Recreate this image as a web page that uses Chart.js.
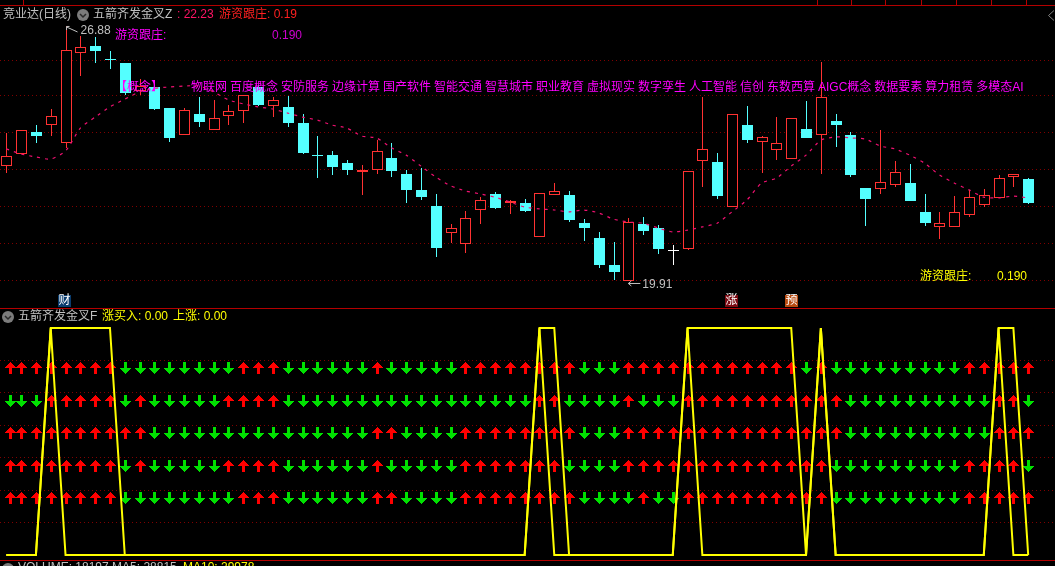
<!DOCTYPE html>
<html>
<head>
<meta charset="utf-8">
<title>竞业达(日线)</title>
<style>
	html, body { margin: 0; padding: 0; background: #000; overflow: hidden; }
	canvas { display: block; }
</style>
<script src="https://cdn.jsdelivr.net/npm/chart.js@4/dist/chart.umd.min.js"></script>
</head>
<body>
<canvas id="kline" width="1055" height="566"></canvas>
<script>
// daily candles
const opens = [23.05,23.38,23.98,24.17,23.68,26.14,26.33,25.98,25.87,25.10,
	25.21,24.64,23.90,24.47,24.04,24.42,24.56,25.21,24.69,24.67,
	24.23,23.35,23.35,23.13,22.89,22.94,23.27,22.83,22.40,21.96,
	21.22,20.92,21.85,22.29,22.04,22.04,21.11,22.26,22.26,21.49,
	21.08,20.35,19.91,21.47,21.36,20.76,20.78,23.19,23.16,21.93,
	24.17,23.71,23.49,23.24,24.06,23.90,24.28,23.90,22.45,22.42,
	22.53,22.59,21.80,21.39,21.39,21.71,21.99,22.18,22.75,22.70]
const highs = [23.96,24.04,24.17,24.61,26.88,26.61,26.58,26.20,25.87,25.43,
	25.38,24.64,24.64,24.94,24.86,24.72,24.99,25.27,24.94,24.97,
	24.47,23.87,23.46,23.22,23.08,23.76,23.68,22.94,23.00,22.29,
	21.47,21.82,22.20,22.34,22.12,22.15,22.31,22.59,22.37,21.60,
	21.25,20.98,21.63,21.66,21.44,20.89,22.92,24.94,23.41,24.47,
	24.69,23.87,24.39,24.36,24.83,25.90,24.47,23.98,22.45,24.04,
	23.19,23.11,22.29,21.80,22.23,22.40,22.42,22.81,22.83,22.72]
const lows = [22.86,23.38,23.68,23.87,23.55,25.51,25.87,25.70,24.99,24.99,
	24.58,23.71,23.90,24.12,24.04,24.17,24.23,24.69,24.39,24.12,
	23.38,22.72,22.81,22.81,22.26,22.83,22.75,22.04,22.12,20.57,
	20.95,20.67,21.47,21.88,21.74,21.80,21.11,22.26,21.52,21.00,
	20.26,19.94,19.91,21.17,20.65,20.35,20.76,22.48,22.15,21.93,
	23.68,22.86,23.22,23.24,23.82,22.83,23.57,22.75,21.41,22.29,
	22.48,22.10,21.41,21.06,21.39,21.66,21.93,22.18,22.48,22.01]
const closes = [23.33,24.04,23.87,24.42,26.22,26.31,26.20,25.97,25.05,25.24,
	24.61,23.82,24.58,24.25,24.36,24.56,24.99,24.72,24.86,24.23,
	23.41,23.34,23.03,22.94,22.94,23.46,22.92,22.40,22.20,20.81,
	21.36,21.63,22.12,21.90,22.10,21.82,22.31,22.37,21.58,21.36,
	20.35,20.16,21.52,21.28,20.78,20.76,22.92,23.52,22.23,24.47,
	23.76,23.85,23.68,24.36,23.82,24.94,24.17,22.81,22.15,22.62,
	22.89,22.10,21.49,21.49,21.80,22.20,22.26,22.72,22.83,22.04]

// the dashed average over the candles
const avgLine = [23.52,23.38,23.30,23.24,23.46,24.09,24.39,24.67,24.88,25.08,
	25.18,25.21,25.24,25.24,25.08,24.86,24.75,24.67,24.61,24.50,
	24.39,24.31,24.17,24.09,23.87,23.82,23.55,23.35,23.05,22.75,
	22.51,22.37,22.29,22.20,22.07,21.93,21.88,21.85,21.80,21.85,
	21.77,21.60,21.52,21.49,21.36,21.25,21.30,21.39,21.49,21.80,
	22.12,22.59,22.72,23.05,23.35,23.76,23.85,23.82,23.79,23.60,
	23.52,23.35,23.13,22.81,22.59,22.40,22.20,22.18,22.23,22.18]

const priceGrid = [25.95,24.98,23.97,22.96,21.95,20.94,19.93]
const signalGrid = [1,2,3,4,5,6]

// lower panel: U = red arrow up, D = green arrow down, top row first
const arrowLevels = [5.77,4.75,3.76,2.74,1.76]
const arrowRows = [
	"UUUUUUUUDD"+"DDDDDDUUUD"+"DDDDDUDDDD"+"DUUUUUUUUD"+"DDUUUUUUUU"+"UUUUDUDDDD"+"DDDDDUUUUU",
	"DDDUUUUUDU"+"DDDDDUUUUD"+"DDDDDDDDDD"+"DDDDDDUUDD"+"DDUDDDUUUU"+"UUUUUUUDDD"+"DDDDDDDUUD",
	"UUUUUUUUUU"+"DDDDDDDDDD"+"DDDDDUUDDD"+"DUUUUUUUUD"+"DDUUUUUUUU"+"UUUUUUUDDD"+"DDDDDDDUUU",
	"UUUUUUUUDU"+"DDDDDUUUUD"+"DDDDDUDDDD"+"DUUUUUUUDD"+"DDUUUUUUUU"+"UUUUUUDDDD"+"DDDDDUUUUD",
	"UUUUUUUUDD"+"DDDDDDUUUD"+"DDDDDUUDDD"+"DUUUUUUUUD"+"DDDUDDUUUU"+"UUUUUUDDDD"+"DDDDDUUUUU"
]

const buySignal = [0,0,0,7,0,0,0,0,0,0,
	0,0,0,0,0,0,0,0,0,0,
	0,0,0,0,0,0,0,0,0,0,
	0,0,0,0,0,0,7,0,0,0,
	0,0,0,0,0,0,7,0,0,0,
	0,0,0,0,0,7,0,0,0,0,
	0,0,0,0,0,0,0,7,0,0]
const upSignal = [0,0,0,7,7,7,7,7,0,0,
	0,0,0,0,0,0,0,0,0,0,
	0,0,0,0,0,0,0,0,0,0,
	0,0,0,0,0,0,7,7,0,0,
	0,0,0,0,0,0,7,7,7,7,
	7,7,7,7,0,7,0,0,0,0,
	0,0,0,0,0,0,0,7,7,0]

const conceptWords = ["物联网","百度概念","安防服务","边缘计算","国产软件","智能交通","智慧城市","职业教育",
	"虚拟现实","数字孪生","人工智能","信创","东数西算","AIGC概念","数据要素","算力租赁","多模态AI"]

const RED = "#ff3232"
const CYAN = "#54ffff"
const YELLOW = "#ffff00"
const MAGENTA = "#ff00ff"
const GREY = "#c0c0c0"
const FONT = '12px "Liberation Sans","Noto Sans CJK SC"'

function candleColor(i) {
	if (closes[i] > opens[i]) return RED
	if (closes[i] < opens[i]) return CYAN
	return "#ffffff"
}

function makeArrow(color, up) {
	const c = document.createElement("canvas")
	c.width = 11
	c.height = 12
	const g = c.getContext("2d")
	g.fillStyle = color
	for (let r = 0; r < 6; r++) {
		const w = 1 + r * 2
		g.fillRect(5 - r, up ? r : 11 - r, w, 1)
	}
	g.fillRect(4, up ? 6 : 0, 3, 6)
	return c
}
const upArrow = makeArrow("#ff0000", true)
const downArrow = makeArrow("#00e000", false)

const arrowDatasets = arrowRows.map((row, r) => ({
	type: "line",
	yAxisID: "signal",
	showLine: false,
	arrowRow: true,
	order: 1,
	data: row.split("").map((d, i) => ({ x: i, y: arrowLevels[r] })),
	pointStyle: row.split("").map(d => d === "U" ? upArrow : downArrow),
	pointRadius: 6
}))

function signalDataset(values) {
	return {
		type: "line",
		yAxisID: "signal",
		order: 0,
		data: values.map((v, i) => ({ x: i, y: v })),
		borderColor: YELLOW,
		borderWidth: 2,
		pointRadius: 0,
		tension: 0
	}
}

// bars come out crisp only on whole pixels, same for the arrow images
const snapPlugin = {
	id: "snap",
	afterDatasetsUpdate(chart) {
		chart.data.datasets.forEach((ds, d) => {
			const meta = chart.getDatasetMeta(d)
			if (meta.type === "bar") {
				meta.data.forEach(el => {
					el.x = Math.round(el.x) + 0.5
					el.y = Math.round(el.y)
					el.base = Math.round(el.base)
					if (el.y === el.base) el.base = el.y + 1
				})
			} else if (ds.arrowRow) {
				meta.data.forEach(el => {
					// the first arrow is held clear of the window edge
					el.x = Math.max(Math.round(el.x), 10) + 0.5
					el.y = Math.round(el.y)
				})
			}
		})
	}
}

function put(g, str, x, y, color) {
	g.fillStyle = color
	g.fillText(str, x, y)
}

function foldIcon(g, x, y) {
	g.fillStyle = "#7c7c7c"
	g.beginPath()
	g.arc(x, y, 6, 0, Math.PI * 2)
	g.fill()
	g.strokeStyle = "#2a2a2a"
	g.lineWidth = 1.5
	g.beginPath()
	g.moveTo(x - 3, y - 1)
	g.lineTo(x, y + 2)
	g.lineTo(x + 3, y - 1)
	g.stroke()
}

function badge(g, str, x, bg) {
	g.fillStyle = bg
	g.fillRect(x, 295, 13, 12)
	put(g, str, x + 0.5, 301, "#ffffff")
}

const overlayPlugin = {
	id: "overlay",
	afterDatasetsDraw(chart) {
		const g = chart.ctx
		const xs = chart.scales.x
		const ps = chart.scales.price
		g.save()

		// panel separators
		g.fillStyle = "#b40000"
		g.fillRect(0, 5, 1055, 1)
		g.fillRect(0, 308, 1055, 1)
		g.fillRect(0, 560, 1055, 1)
		;[23, 817, 851, 885, 921, 956, 991, 1026].forEach(x => g.fillRect(x, 0, 1, 5))

		g.font = FONT
		g.textBaseline = "middle"

		// upper header
		put(g, "竞业达(日线)", 3, 15, GREY)
		foldIcon(g, 83, 15)
		put(g, "五箭齐发金叉Z", 93, 15, GREY)
		put(g, ": 22.23", 177, 15, "#ff1464")
		put(g, "游资跟庄: 0.19", 219, 15, "#ff2020")
		put(g, "游资跟庄:", 115, 36, MAGENTA)
		put(g, "0.190", 272, 36, "#d000d0")

		// concept ticker
		put(g, "【概念】", 115, 88, MAGENTA)
		let cx = 191
		conceptWords.forEach(w => {
			put(g, w, cx, 88, MAGENTA)
			cx += g.measureText(w).width + 3
		})

		// high and low marks
		const hiX = xs.getPixelForValue(4)
		const hiY = ps.getPixelForValue(Math.max(...highs))
		const loX = xs.getPixelForValue(42)
		const loY = ps.getPixelForValue(Math.min(...lows))
		g.strokeStyle = GREY
		g.lineWidth = 1
		g.beginPath()
		g.moveTo(hiX + 1, hiY + 4)
		g.lineTo(hiX + 1, hiY + 0.5)
		g.lineTo(hiX + 4, hiY + 0.5)
		g.moveTo(hiX + 1, hiY + 1)
		g.lineTo(hiX + 12, hiY + 6)
		g.moveTo(loX, loY + 2.5)
		g.lineTo(loX + 12, loY + 2.5)
		g.moveTo(loX + 3, loY)
		g.lineTo(loX, loY + 2.5)
		g.lineTo(loX + 3, loY + 5)
		g.stroke()
		put(g, Math.max(...highs).toFixed(2), hiX + 15, hiY + 5, GREY)
		put(g, Math.min(...lows).toFixed(2), loX + 14, loY + 4, GREY)

		put(g, "游资跟庄:", 920, 277, YELLOW)
		put(g, "0.190", 997, 277, YELLOW)

		badge(g, "财", 58, "#0a3c6e")
		badge(g, "涨", 725, "#7a0a12")
		badge(g, "预", 785, "#b84a10")

		// diamond in the corner
		g.strokeStyle = "#808080"
		g.beginPath()
		g.moveTo(1054, 10.5)
		g.lineTo(1048.5, 15.5)
		g.lineTo(1054, 20.5)
		g.stroke()

		// lower header
		foldIcon(g, 8, 317)
		put(g, "五箭齐发金叉F", 18, 317, GREY)
		put(g, "涨买入: 0.00", 102, 317, YELLOW)
		put(g, "上涨: 0.00", 173, 317, YELLOW)

		// volume header, cut off by the window
		foldIcon(g, 8, 569)
		put(g, "VOLUME: 18197 MA5: 28815", 18, 568, GREY)
		put(g, "MA10: 29978", 183, 568, YELLOW)

		g.restore()
	}
}

function gridAxis(min, max, ticks) {
	return {
		min: min,
		max: max,
		position: "left",
		afterBuildTicks(scale) {
			scale.ticks = ticks.map(v => ({ value: v }))
		},
		ticks: { display: false },
		grid: { color: "#800000", lineWidth: 1, drawTicks: false },
		border: { display: false, dash: [1, 3] }
	}
}

const ctx = document.getElementById("kline").getContext("2d")

new Chart(ctx, {
	data: {
		datasets: [
			{
				type: "bar",
				yAxisID: "price",
				order: 4,
				grouped: false,
				barThickness: 1,
				inflateAmount: 0,
				data: highs.map((h, i) => ({ x: i, y: [lows[i], h] })),
				backgroundColor: highs.map((h, i) => candleColor(i)),
				borderWidth: 0
			},
			{
				type: "bar",
				yAxisID: "price",
				order: 3,
				grouped: false,
				barThickness: 11,
				inflateAmount: 0,
				data: opens.map((o, i) => ({ x: i, y: [o, closes[i]] })),
				backgroundColor: opens.map((o, i) => closes[i] > o ? "#000000" : candleColor(i)),
				borderColor: opens.map((o, i) => candleColor(i)),
				borderWidth: 1,
				borderSkipped: false
			},
			{
				type: "line",
				yAxisID: "price",
				order: 2,
				data: avgLine.map((v, i) => ({ x: i, y: v })),
				borderColor: "#f01070",
				borderWidth: 1.2,
				borderDash: [3, 5],
				pointRadius: 0,
				tension: 0.2
			},
			...arrowDatasets,
			signalDataset(buySignal),
			signalDataset(upSignal)
		]
	},
	options: {
		responsive: false,
		animation: false,
		events: [],
		layout: { padding: 0, autoPadding: false },
		plugins: { legend: { display: false }, tooltip: { enabled: false } },
		scales: {
			x: { type: "linear", display: false, offset: false, min: -0.4254, max: 70.81 },
			price: gridAxis(12.12, 27.59, priceGrid),
			signal: gridAxis(-0.339, 17.11, signalGrid)
		}
	},
	plugins: [snapPlugin, overlayPlugin]
})
</script>
</body>
</html>
